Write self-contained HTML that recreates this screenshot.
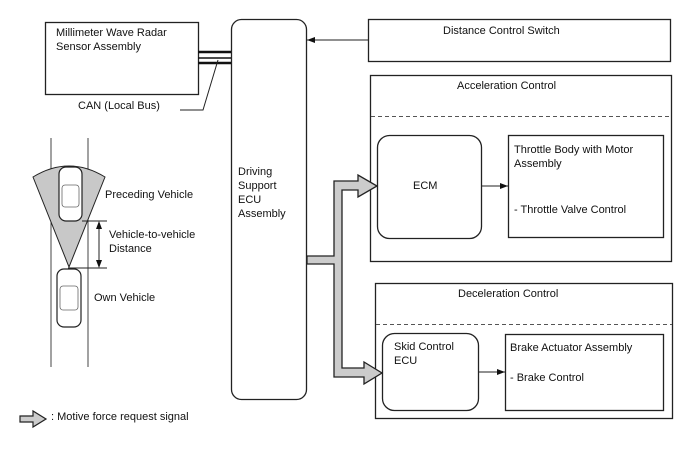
<!DOCTYPE html>
<html><head><style>body{margin:0;background:#fff}svg{display:block}text{font-family:"Liberation Sans",Arial,sans-serif;font-size:11px;fill:#111}</style></head><body>
<svg width="688" height="463" viewBox="0 0 688 463" xmlns="http://www.w3.org/2000/svg">
<defs><marker id="a" markerWidth="8" markerHeight="6" refX="8" refY="3" orient="auto" markerUnits="userSpaceOnUse"><path d="M0,0 L8,3 L0,6z" fill="#111"/></marker></defs>
<g fill="none" stroke="#222" stroke-width="1.3">
<rect x="45.5" y="22.5" width="153" height="72"/>
<rect x="231.5" y="19.5" width="75" height="380" rx="10"/>
<rect x="368.5" y="19.5" width="302" height="42"/>
<rect x="370.5" y="75.5" width="301" height="186"/>
<rect x="375.5" y="283.5" width="297" height="135"/>
<rect x="377.5" y="135.5" width="104" height="103" rx="12"/>
<rect x="508.5" y="135.5" width="155" height="102"/>
<rect x="382.5" y="333.5" width="96" height="77" rx="12"/>
<rect x="505.5" y="334.5" width="158" height="76"/>
</g>
<g stroke="#555" stroke-dasharray="4,3" stroke-width="1"><line x1="371" y1="116.5" x2="671" y2="116.5"/><line x1="376" y1="324.5" x2="672" y2="324.5"/></g>
<g stroke="#111"><line x1="198" y1="52" x2="231" y2="52" stroke-width="2.5"/><line x1="198" y1="58" x2="231" y2="58" stroke-width="1.5"/><line x1="198" y1="63" x2="231" y2="63" stroke-width="2.5"/></g>
<polyline points="180,110 203,110 218,60" fill="none" stroke="#222" stroke-width="1"/>
<line x1="368" y1="40" x2="307" y2="40" stroke="#222" stroke-width="1" marker-end="url(#a)"/>
<line x1="481" y1="186" x2="508" y2="186" stroke="#222" stroke-width="1" marker-end="url(#a)"/>
<line x1="478" y1="372" x2="505" y2="372" stroke="#222" stroke-width="1" marker-end="url(#a)"/>
<path d="M307,256 L334,256 L334,181 L358,181 L358,175 L377,186 L358,197 L358,190 L342,190 L342,368 L364,368 L364,362 L382,373 L364,384 L364,377 L334,377 L334,264 L307,264 Z" fill="#ccc" stroke="#222" stroke-width="1.3"/>
<path d="M20,416 L33,416 L33,411 L46,419 L33,427 L33,422 L20,422 Z" fill="#ccc" stroke="#222" stroke-width="1.2"/>
<g stroke="#444" stroke-width="1"><line x1="51" y1="138" x2="51" y2="367"/><line x1="88" y1="138" x2="88" y2="367"/></g>
<path d="M33,177 Q69,155 105,177 L69,267 Z" fill="#c8c8c8" stroke="#222" stroke-width="1"/>
<g fill="#fff" stroke="#222" stroke-width="1.2"><rect x="59" y="167" width="23" height="54" rx="7"/><rect x="57" y="269" width="24" height="58" rx="7"/></g>
<g fill="none" stroke="#666" stroke-width="0.8"><rect x="62" y="185" width="17" height="22" rx="3"/><rect x="60" y="286" width="18" height="24" rx="3"/></g>
<g stroke="#222" stroke-width="1"><line x1="82" y1="221" x2="107" y2="221"/><line x1="68" y1="268" x2="107" y2="268"/><line x1="99" y1="228" x2="99" y2="261"/></g>
<path d="M96,229 L99,221 L102,229Z M96,260 L99,268 L102,260Z" fill="#111"/>
<text x="56" y="36">Millimeter Wave Radar</text><text x="56" y="50">Sensor Assembly</text>
<text x="78" y="109">CAN (Local Bus)</text>
<text x="238" y="175">Driving</text><text x="238" y="189">Support</text><text x="238" y="203">ECU</text><text x="238" y="217">Assembly</text>
<text x="105" y="198">Preceding Vehicle</text>
<text x="109" y="238">Vehicle-to-vehicle</text><text x="109" y="252">Distance</text>
<text x="94" y="301">Own Vehicle</text>
<text x="51" y="420">: Motive force request signal</text>
<text x="443" y="34">Distance Control Switch</text>
<text x="457" y="89">Acceleration Control</text>
<text x="413" y="189">ECM</text>
<text x="514" y="153">Throttle Body with Motor</text><text x="514" y="167">Assembly</text><text x="514" y="213">- Throttle Valve Control</text>
<text x="458" y="297">Deceleration Control</text>
<text x="394" y="350">Skid Control</text><text x="394" y="364">ECU</text>
<text x="510" y="351">Brake Actuator Assembly</text><text x="510" y="381">- Brake Control</text>
</svg></body></html>
